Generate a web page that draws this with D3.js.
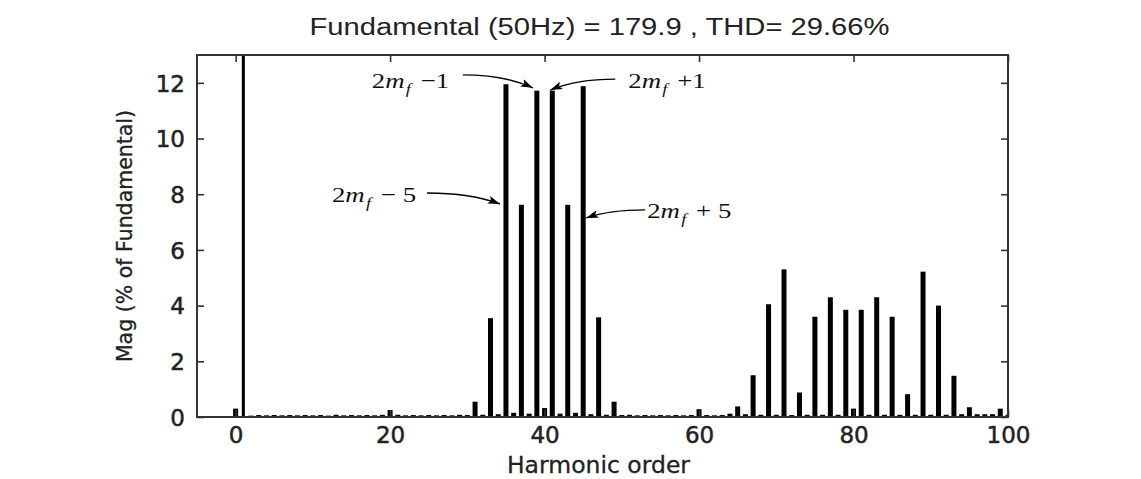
<!DOCTYPE html>
<html>
<head>
<meta charset="utf-8">
<script src="https://cdn.jsdelivr.net/npm/d3@7"></script>
<style>
  html, body { margin: 0; padding: 0; background: #fff; }
  svg { display: block; }
</style>
</head>
<body>
<svg id="chart" width="1141" height="479"></svg>
<script>
// ---------------- data ----------------
const harmonicOrder = [
  0, 1, 2, 3, 4, 5, 6, 7, 8, 9,
  10, 11, 12, 13, 14, 15, 16, 17, 18, 19,
  20, 21, 22, 23, 24, 25, 26, 27, 28, 29,
  30, 31, 32, 33, 34, 35, 36, 37, 38, 39,
  40, 41, 42, 43, 44, 45, 46, 47, 48, 49,
  50, 51, 52, 53, 54, 55, 56, 57, 58, 59,
  60, 61, 62, 63, 64, 65, 66, 67, 68, 69,
  70, 71, 72, 73, 74, 75, 76, 77, 78, 79,
  80, 81, 82, 83, 84, 85, 86, 87, 88, 89,
  90, 91, 92, 93, 94, 95, 96, 97, 98, 99,
  100
];
// magnitude, % of fundamental (fundamental itself = 100, clipped by the axis)
const magnitude = [
  0.30, 100, 0.05, 0.07, 0.06, 0.07, 0.06, 0.07, 0.06, 0.07,
  0.06, 0.07, 0.05, 0.08, 0.06, 0.07, 0.06, 0.07, 0.06, 0.08,
  0.25, 0.08, 0.06, 0.07, 0.06, 0.07, 0.06, 0.07, 0.06, 0.08,
  0.07, 0.55, 0.08, 3.55, 0.10, 11.95, 0.15, 7.62, 0.12, 11.72,
  0.32, 11.72, 0.12, 7.62, 0.15, 11.88, 0.10, 3.58, 0.08, 0.55,
  0.07, 0.08, 0.06, 0.07, 0.06, 0.07, 0.06, 0.07, 0.06, 0.07,
  0.28, 0.07, 0.06, 0.07, 0.12, 0.38, 0.10, 1.50, 0.08, 4.05,
  0.08, 5.30, 0.07, 0.88, 0.08, 3.60, 0.08, 4.30, 0.08, 3.85,
  0.30, 3.85, 0.08, 4.30, 0.08, 3.60, 0.08, 0.82, 0.08, 5.22,
  0.08, 4.00, 0.08, 1.48, 0.10, 0.35, 0.10, 0.10, 0.10, 0.30,
  0.08
];
const xTickValues = [0, 20, 40, 60, 80, 100];
const yTickValues = [0, 2, 4, 6, 8, 10, 12];
const xDomain = [-5, 100];
const yDomain = [0, 13];
const titleText = "Fundamental (50Hz) = 179.9 , THD= 29.66%";
const xLabelText = "Harmonic order";
const yLabelText = "Mag (% of Fundamental)";
// annotations: which bar, the sign/offset text, and the magnitude where the arrow lands
const annotationBars = [39, 41, 35, 45];
const annotationSigns = ["\u22121", "+1", "\u2212 5", "+ 5"];
const annotationTipMag = [11.82, 11.74, 7.65, 7.15];

// ---------------- layout ----------------
const plot = { left: 197, right: 1008, top: 55, bottom: 417 };
const svg = d3.select("#chart");
const x = d3.scaleLinear().domain(xDomain).range([plot.left, plot.right]);
const y = d3.scaleLinear().domain(yDomain).range([plot.bottom, plot.top]);
const ink = "#222";
const frameColor = "#333";
const barW = 5;
const fundW = 3;

svg.append("defs").append("clipPath").attr("id", "plotClip")
  .append("rect")
  .attr("x", plot.left).attr("y", plot.top)
  .attr("width", plot.right - plot.left).attr("height", plot.bottom - plot.top);

// bars
const data = harmonicOrder.map((h, i) => ({ h, v: magnitude[i] }));
svg.append("g").attr("clip-path", "url(#plotClip)")
  .selectAll("rect").data(data).join("rect")
  .attr("x", d => x(d.h) - (d.h === 1 ? fundW : barW) / 2)
  .attr("width", d => d.h === 1 ? fundW : barW)
  .attr("y", d => y(Math.min(d.v, yDomain[1] + 1)))
  .attr("height", d => y(0) - y(Math.min(d.v, yDomain[1] + 1)))
  .attr("fill", "#000");

// axes (ticks inward)
const tickLen = 7;
const fontSans = "'DejaVu Sans', sans-serif";

const xAxisB = d3.axisBottom(x).tickValues(xTickValues).tickSizeInner(-tickLen).tickSizeOuter(0).tickPadding(tickLen + 12);
const gxb = svg.append("g").attr("transform", `translate(0,${plot.bottom})`).call(xAxisB);
const xAxisT = d3.axisTop(x).tickValues(xTickValues).tickSizeInner(-tickLen).tickSizeOuter(0).tickFormat("");
const gxt = svg.append("g").attr("transform", `translate(0,${plot.top})`).call(xAxisT);
const yAxisL = d3.axisLeft(y).tickValues(yTickValues).tickSizeInner(-tickLen).tickSizeOuter(0).tickPadding(tickLen + 12);
const gyl = svg.append("g").attr("transform", `translate(${plot.left},0)`).call(yAxisL);
const yAxisR = d3.axisRight(y).tickValues(yTickValues).tickSizeInner(-tickLen).tickSizeOuter(0).tickFormat("");
const gyr = svg.append("g").attr("transform", `translate(${plot.right},0)`).call(yAxisR);

[gxb, gxt, gyl, gyr].forEach(g => {
  g.select(".domain").remove();
  g.selectAll(".tick line").attr("stroke", frameColor).attr("stroke-width", 1.6);
  g.selectAll(".tick text").attr("fill", ink)
    .attr("stroke", ink).attr("stroke-width", 0.5)
    .style("font-family", fontSans).style("font-size", "23px");
});
gxb.selectAll(".tick text").attr("dy", "0.71em").attr("y", 10);
gyl.selectAll(".tick text").attr("x", -12).attr("dy", "0.36em");

// frame
svg.append("rect")
  .attr("x", plot.left).attr("y", plot.top)
  .attr("width", plot.right - plot.left).attr("height", plot.bottom - plot.top)
  .attr("fill", "none").attr("stroke", frameColor).attr("stroke-width", 2);

// title
svg.append("text")
  .attr("x", (plot.left + plot.right) / 2 - 3).attr("y", 35)
  .attr("text-anchor", "middle")
  .attr("fill", ink)
  .style("font-family", "'Liberation Sans', Arial, sans-serif").style("font-size", "23px")
  .attr("textLength", 580).attr("lengthAdjust", "spacingAndGlyphs")
  .text(titleText);

// x label
svg.append("text")
  .attr("x", (plot.left + plot.right) / 2 - 4).attr("y", 473)
  .attr("text-anchor", "middle").attr("fill", ink)
  .attr("stroke", ink).attr("stroke-width", 0.3)
  .style("font-family", fontSans).style("font-size", "23.5px")
  .text(xLabelText);

// y label
svg.append("text")
  .attr("transform", `translate(132,${(plot.top + plot.bottom) / 2}) rotate(-90)`)
  .attr("text-anchor", "middle").attr("fill", ink)
  .attr("stroke", ink).attr("stroke-width", 0.3)
  .style("font-family", fontSans).style("font-size", "20.5px")
  .text(yLabelText);

// ---------------- annotations ----------------
const defs = svg.select("defs");
defs.append("marker").attr("id", "arrowHead")
  .attr("viewBox", "0 0 12 8").attr("refX", 12).attr("refY", 4)
  .attr("markerWidth", 12).attr("markerHeight", 8)
  .attr("markerUnits", "userSpaceOnUse").attr("orient", "auto")
  .append("path").attr("d", "M0,0 L12,4 L0,8 L2.5,4 Z").attr("fill", "#000");

// layout offsets (px) relative to the arrow tip, per annotation
const annLayout = [
  { tipDx: -4, start: [-70, -13], label: [-161, 0] },
  { tipDx: -2, start: [65, -11], label: [78, -2] },
  { tipDx: -6, start: [-73, -11], label: [-168, -2] },
  { tipDx: 3, start: [59, -8], label: [61, 0] }
];

annotationBars.forEach((h, i) => {
  const L = annLayout[i];
  const tx = x(h) + L.tipDx, ty = y(annotationTipMag[i]);
  const sx = tx + L.start[0], sy = ty + L.start[1];
  const cx = sx + 0.6 * (tx - sx), cy = sy;
  svg.append("path")
    .attr("d", `M${sx},${sy} Q${cx},${cy} ${tx},${ty}`)
    .attr("fill", "none").attr("stroke", "#000").attr("stroke-width", 1.4)
    .attr("marker-end", "url(#arrowHead)");

  const lx = tx + L.label[0], ly = ty + L.label[1];
  const t = svg.append("text")
    .attr("transform", `translate(${lx},${ly}) scale(1.22,1)`)
    .attr("fill", "#111")
    .style("font-family", "'Liberation Serif', 'Times New Roman', serif")
    .style("font-size", "22px");
  t.append("tspan").text("2");
  t.append("tspan").style("font-style", "italic").text("m");
  t.append("tspan").style("font-style", "italic").style("font-size", "15px").attr("dy", 6).attr("dx", 1).text("f");
  t.append("tspan").attr("dy", -6).attr("dx", 8).text(annotationSigns[i]);
});
</script>
</body>
</html>
